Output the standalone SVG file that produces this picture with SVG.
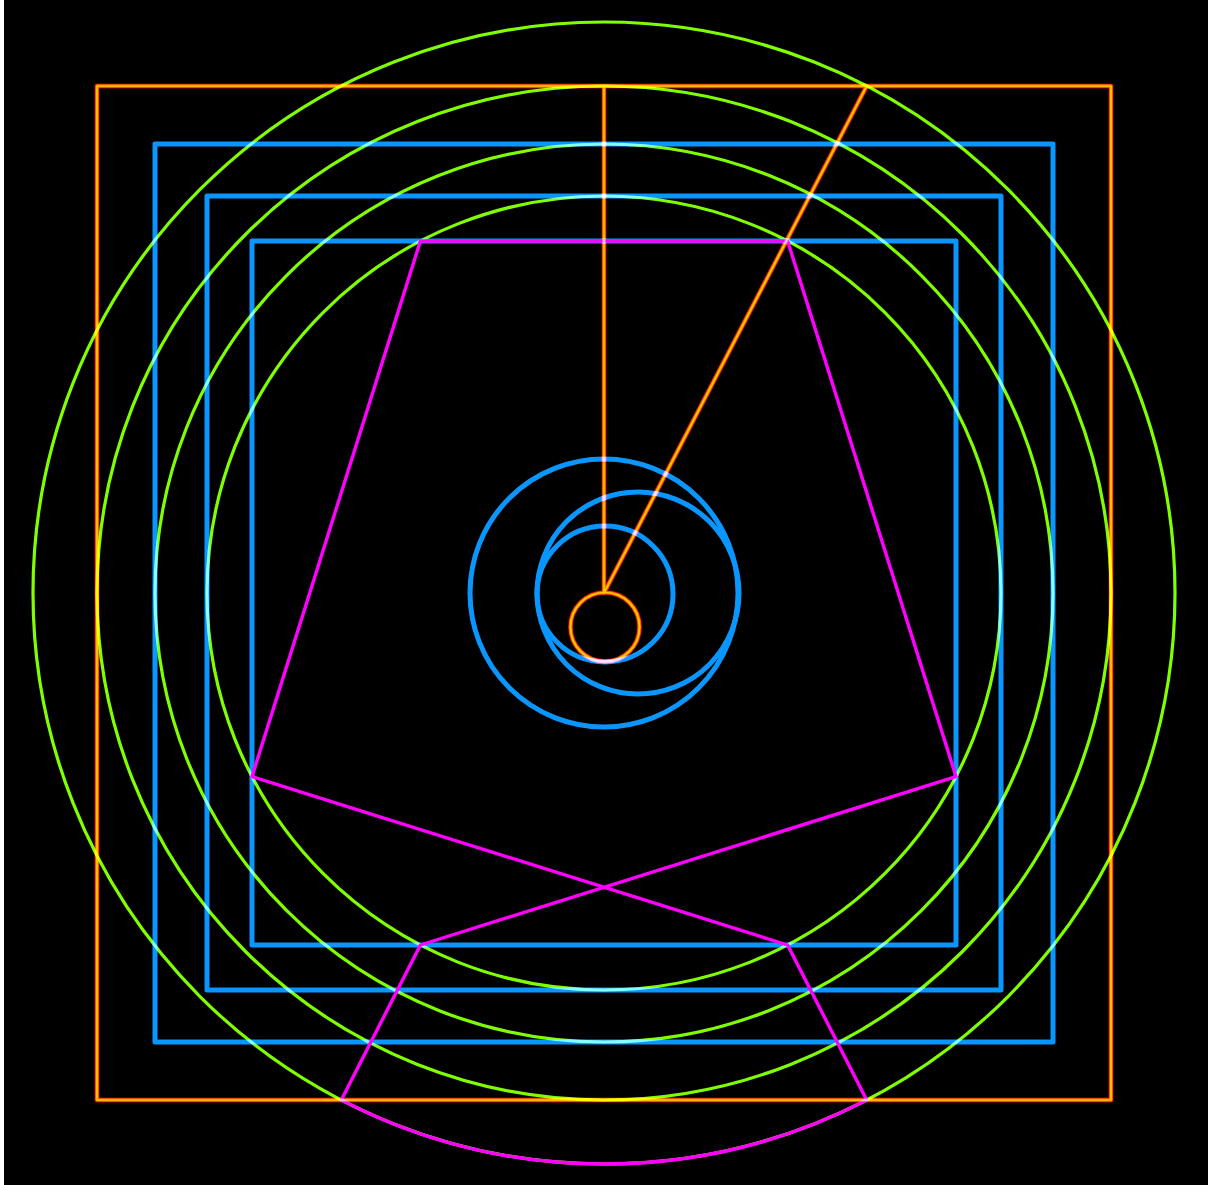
<svg xmlns="http://www.w3.org/2000/svg" width="1208" height="1185" viewBox="0 0 1208 1185">
<style>
.lay{mix-blend-mode:screen}
.g{fill:none;stroke:#80ff00;stroke-width:3.2}
.b{fill:none;stroke:#0a96ff;stroke-width:5;stroke-linejoin:round}
.m{fill:none;stroke:#ff00ff;stroke-width:3.4;stroke-linejoin:round}
.o0{fill:none;stroke:#b00000;stroke-width:5;stroke-linejoin:round}
.o1{fill:none;stroke:#ff6a00;stroke-width:3.6;stroke-linejoin:round}
.o2{fill:none;stroke:#ffd000;stroke-width:1.6;stroke-linejoin:round}
</style>
<defs>
<g id="orangeShapes">
<rect x="97" y="86" width="1014" height="1014"/>
<path d="M604,86 L604,593 L866.7,86"/>
<circle cx="605" cy="627" r="34.5"/>
</g>
</defs>
<rect x="0" y="0" width="1208" height="1185" fill="#ffffff"/>
<rect x="4" y="0" width="1204" height="1185" fill="#000000"/>
<g id="green-circles" class="lay">
<circle class="g" cx="604" cy="593" r="571"/>
<circle class="g" cx="604" cy="593" r="507"/>
<circle class="g" cx="604" cy="593" r="449"/>
<circle class="g" cx="604" cy="593" r="397"/>
</g>
<g id="blue-shapes" class="lay">
<rect class="b" x="155" y="144" width="898" height="898"/>
<rect class="b" x="207" y="196" width="794" height="794"/>
<rect class="b" x="252" y="241" width="704" height="704"/>
<circle class="b" cx="604" cy="593" r="134"/>
<circle class="b" cx="638" cy="593" r="101"/>
<circle class="b" cx="605" cy="594" r="68"/>
</g>
<g id="magenta-figure">
<path class="m" d="M341.3,1100 L420.4,945 L956,776.6 L787.6,241 L420.4,241 L252,776.6 L787.6,945 L866.7,1100 A571,571 0 0 1 341.3,1100 Z"/>
</g>
<g id="orange-figure" class="lay">
<use href="#orangeShapes" class="o0"/>
<use href="#orangeShapes" class="o1"/>
<use href="#orangeShapes" class="o2"/>
</g>
</svg>
